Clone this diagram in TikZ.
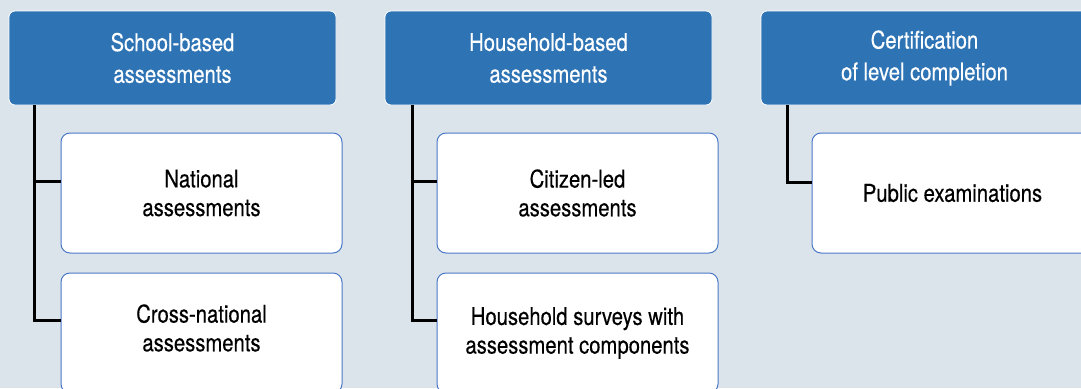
\documentclass[tikz,border=0pt]{standalone}
\usepackage{fontspec}
\setmainfont{TeX Gyre Heros}[FakeStretch=0.83,UprightFeatures={FakeBold=0.35}]
\definecolor{bg}{HTML}{DCE4EB}
\definecolor{headblue}{HTML}{2E74B5}
\definecolor{subborder}{HTML}{4A78C8}
\begin{document}
\begin{tikzpicture}[x=1pt,y=-1pt,
  head/.style={draw=white, line width=0.8pt, fill=headblue, rounded corners=6pt,
    text=white, font=\fontsize{24.4}{31.7}\selectfont, align=center,
    minimum width=327pt, minimum height=94pt, inner sep=0pt},
  sub/.style={draw=subborder, line width=1pt, fill=white, rounded corners=9pt,
    minimum width=281pt, minimum height=120pt, inner sep=0pt,
    font=\fontsize{24.4}{28.7}\selectfont, align=center},
  lbl/.style={font=\fontsize{24.4}{28.7}\selectfont, align=center, inner sep=0pt},
  link/.style={line width=3pt}]
\fill[bg] (0,0) rectangle (1081,388);
\useasboundingbox (0,0) rectangle (1081,388);
\clip (0,0) rectangle (1081,388);
% headers
\node[head] (h1) at (172.5,58) {School-based\\assessments};
\node[head] (h2) at (548.5,58) {Household-based\\assessments};
\node[head] (h3) at (924.5,58) {Certification\\of level completion};
% spine coordinates
\coordinate (v1) at (34,0);
\coordinate (v2) at (412,0);
\coordinate (v3) at (787,0);
% sub-boxes
\node[sub] (nat) at (201.5,193) {National\\assessments};
\node[sub] (cross) at (201.5,333) {};
\node[lbl] (crosst) at (201.5,328) {Cross-national\\assessments};
\node[sub] (cit) at (577.5,193) {Citizen-led\\assessments};
\node[sub] (hs) at (577.5,333) {};
\node[lbl] (hst) at (577.5,333) {Household surveys with\\assessment components};
\node[sub] (pub) at (952.5,193) {Public examinations};
\begin{scope}[link]
\draw (h1.south -| v1) |- ([yshift=12pt]nat.west);
\draw (h1.south -| v1) |- ([yshift=13pt]cross.west);
\draw (h2.south -| v2) |- ([yshift=12pt]cit.west);
\draw (h2.south -| v2) |- ([yshift=13pt]hs.west);
\draw (h3.south -| v3) |- ([yshift=11pt]pub.west);
\end{scope}
\end{tikzpicture}
\end{document}
